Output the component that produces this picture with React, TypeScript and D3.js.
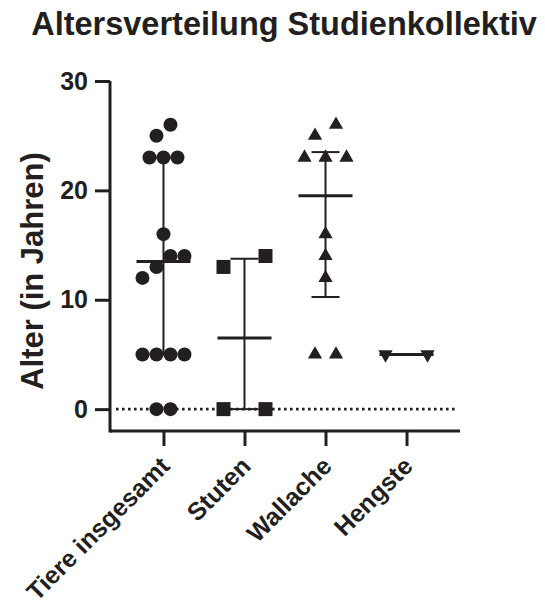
import React, { useEffect, useRef } from 'react'
import * as d3 from 'd3'

// data (Alter in Jahren)
const categories = ['Tiere insgesamt', 'Stuten', 'Wallache', 'Hengste']
const tiereValues = [26, 25, 23, 23, 23, 16, 14, 14, 13, 12, 5, 5, 5, 5, 0, 0]
const stutenValues = [14, 13, 0, 0]
const wallacheValues = [26, 25, 23, 23, 23, 16, 14, 12, 5, 5]
const hengsteValues = [5, 5]
const yTicks = [0, 10, 20, 30]
const titleText = 'Altersverteilung Studienkollektiv'
const yLabelText = 'Alter (in Jahren)'

const W = 545
const H = 605
const ink = '#231f20'
const font = '"Liberation Sans", Arial, Helvetica, sans-serif'

// GraphPad style quartiles: position (n+1)*p
function quart(sorted: number[], p: number) {
  const n = sorted.length
  let pos = (n + 1) * p
  if (pos < 1) pos = 1
  if (pos > n) pos = n
  const lo = Math.floor(pos)
  const frac = pos - lo
  const a = sorted[lo - 1]
  const b = sorted[Math.min(lo, n - 1)]
  return a + frac * (b - a)
}

// points that would overlap go into one row, centred, low values left
function swarm(values: number[], y: (v: number) => number, unit: number, size: number) {
  const sorted = values.slice().sort((a, b) => a - b)
  const rows: number[][] = []
  sorted.forEach(v => {
    const last = rows[rows.length - 1]
    if (last && Math.abs(y(last[last.length - 1]) - y(v)) < size) last.push(v)
    else rows.push([v])
  })
  const out: { value: number; dx: number; y: number }[] = []
  rows.forEach(r => {
    r.forEach((v, i) => out.push({ value: v, dx: (i - (r.length - 1) / 2) * unit, y: y(v) }))
  })
  return out
}

export default function App() {
  const ref = useRef<SVGSVGElement>(null)

  useEffect(() => {
    const svg = d3.select(ref.current)
    svg.selectAll('*').remove()

    const x = d3.scalePoint().domain(categories).range([110, 460]).padding(0.66)
    const y = d3.scaleLinear().domain([-2, 30]).range([431, 81])

    const series = [
      { name: categories[0], values: tiereValues, symbol: d3.symbolCircle, size: Math.PI * 49, rot: 0 },
      { name: categories[1], values: stutenValues, symbol: d3.symbolSquare, size: 196, rot: 0 },
      { name: categories[2], values: wallacheValues, symbol: d3.symbolTriangle, size: 88, rot: 0 },
      { name: categories[3], values: hengsteValues, symbol: d3.symbolTriangle, size: 88, rot: 180 },
    ]

    // title
    svg.append('text')
      .attr('x', 284)
      .attr('y', 35)
      .attr('text-anchor', 'middle')
      .attr('font-family', font)
      .attr('font-weight', 'bold')
      .attr('font-size', 32.5)
      .attr('fill', ink)
      .text(titleText)

    // y label
    svg.append('text')
      .attr('transform', 'translate(43,271) rotate(-90)')
      .attr('text-anchor', 'middle')
      .attr('font-family', font)
      .attr('font-weight', 'bold')
      .attr('font-size', 31)
      .attr('fill', ink)
      .text(yLabelText)

    // dotted zero line
    svg.append('line')
      .attr('x1', 116).attr('x2', 458)
      .attr('y1', y(0)).attr('y2', y(0))
      .attr('stroke', ink)
      .attr('stroke-width', 2.8)
      .attr('stroke-dasharray', '2.6,3.4')

    // axes
    const yAxis = svg.append('g').attr('transform', 'translate(110,0)')
      .call(d3.axisLeft(y).tickValues(yTicks).tickSize(15).tickSizeOuter(0).tickPadding(7))
    const xAxis = svg.append('g').attr('transform', 'translate(0,431)')
      .call(d3.axisBottom(x).tickSize(15).tickSizeOuter(0).tickFormat(() => ''))
    ;[yAxis, xAxis].forEach(g => {
      g.select('.domain').attr('stroke', ink).attr('stroke-width', 3)
      g.selectAll('.tick line').attr('stroke', ink).attr('stroke-width', 3)
    })
    yAxis.select('.domain').attr('d', 'M0,81V431H2')
    xAxis.select('.domain').attr('d', 'M110,0H460')
    yAxis.selectAll('.tick text')
      .attr('font-family', font)
      .attr('font-weight', 'bold')
      .attr('font-size', 25)
      .attr('fill', ink)

    // category labels
    svg.selectAll('.xlab')
      .data(categories)
      .enter()
      .append('text')
      .attr('class', 'xlab')
      .attr('transform', d => 'translate(' + (x(d)! - 5) + ',455) rotate(-45)')
      .attr('text-anchor', 'end')
      .attr('dy', '0.72em')
      .attr('font-family', font)
      .attr('font-weight', 'bold')
      .attr('font-size', 25)
      .attr('fill', ink)
      .text(d => d)

    series.forEach(s => {
      const cx = x(s.name)!
      const sorted = s.values.slice().sort((a, b) => a - b)
      const med = d3.median(sorted)!
      const q1 = quart(sorted, 0.25)
      const q3 = quart(sorted, 0.75)
      const g = svg.append('g')

      // whisker (interquartile range)
      g.append('line')
        .attr('x1', cx).attr('x2', cx)
        .attr('y1', y(q1)).attr('y2', y(q3))
        .attr('stroke', ink).attr('stroke-width', 2)
      ;[q1, q3].forEach(q => {
        g.append('line')
          .attr('x1', cx - 14).attr('x2', cx + 14)
          .attr('y1', y(q)).attr('y2', y(q))
          .attr('stroke', ink).attr('stroke-width', 2)
      })
      // median
      g.append('line')
        .attr('x1', cx - 27).attr('x2', cx + 27)
        .attr('y1', y(med)).attr('y2', y(med))
        .attr('stroke', ink).attr('stroke-width', 3)

      const maxTies = d3.max(d3.rollups(s.values, v => v.length, d => d), d => d[1])!
      const unit = 42 / Math.max(1, maxTies - 1)
      const pts = swarm(s.values, y, unit, 13)
      const sym = d3.symbol().type(s.symbol).size(s.size)

      g.selectAll('path.pt')
        .data(pts)
        .enter()
        .append('path')
        .attr('class', 'pt')
        .attr('d', sym()!)
        .attr('transform', d => 'translate(' + (cx + d.dx) + ',' + d.y + ') rotate(' + s.rot + ')')
        .attr('fill', ink)
    })
  }, [])

  return (
    <div>
      <svg ref={ref} width={W} height={H} style={{ position: 'absolute', left: 0, top: 0, background: '#fff' }} />
    </div>
  )
}
